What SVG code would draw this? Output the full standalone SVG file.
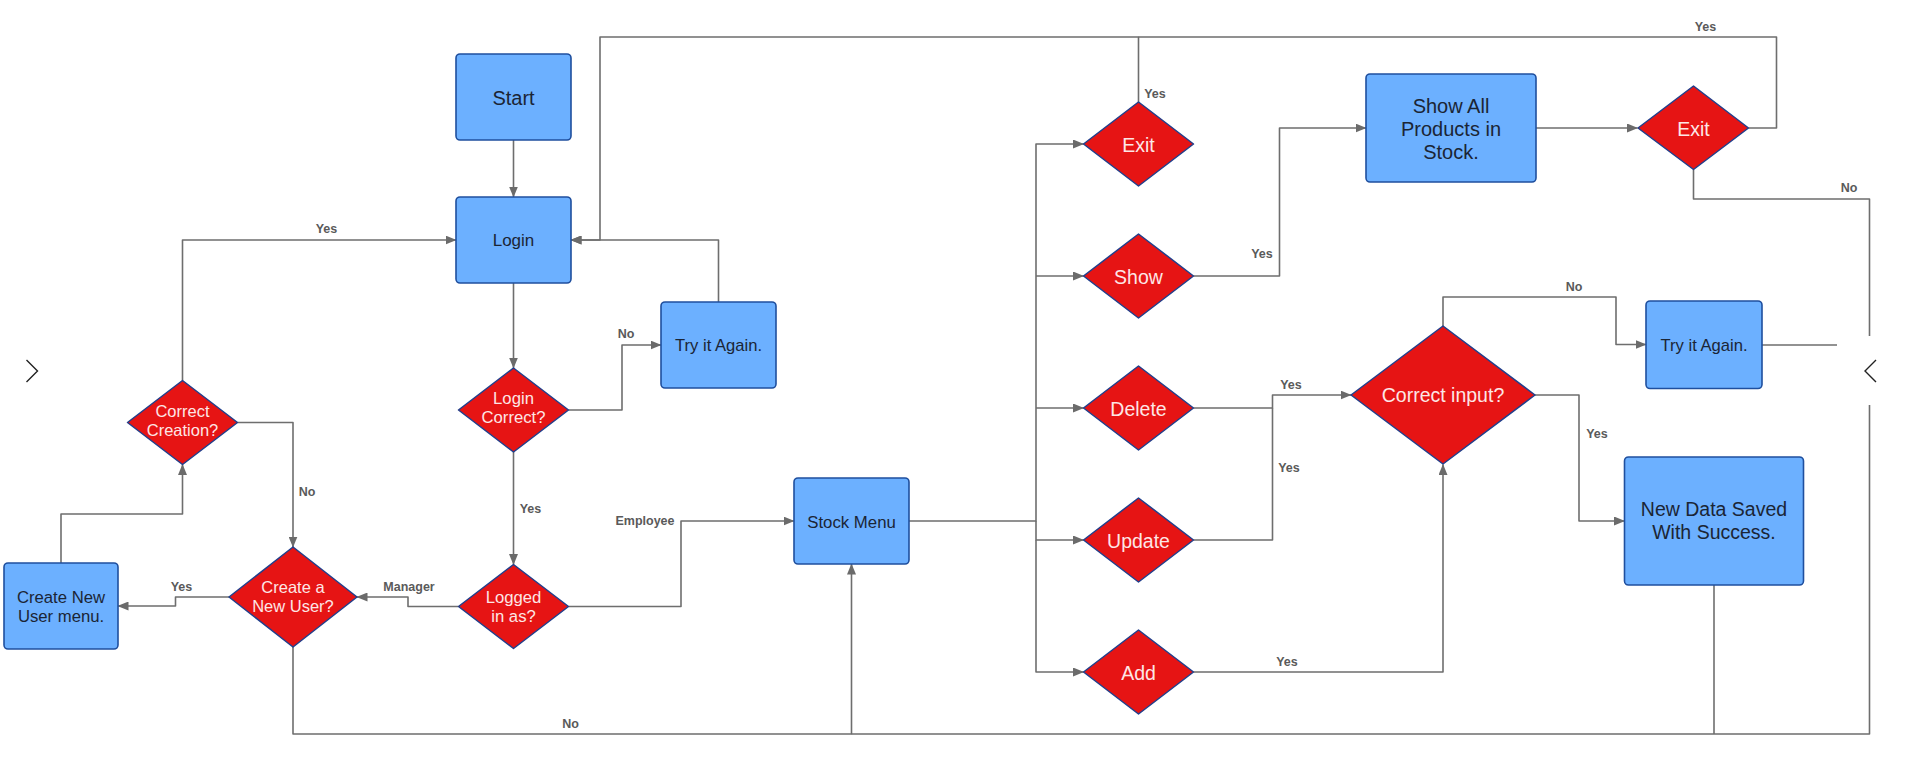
<svg xmlns="http://www.w3.org/2000/svg" width="1906" height="784" viewBox="0 0 1906 784">
<defs>
<marker id="arr" markerUnits="userSpaceOnUse" markerWidth="11" markerHeight="9" refX="10.5" refY="4.5" orient="auto">
<path d="M0,0 L11,4.5 L0,9 z" fill="#6b6b6b"/>
</marker>
<style>
.box{fill:#6cb0ff;stroke:#1f4f9e;stroke-width:1.6}
.dia{fill:#e61414;stroke:#213f8c;stroke-width:1.5;stroke-linejoin:round}
.bt{font-family:"Liberation Sans",Arial,sans-serif;fill:#1b2535;text-anchor:middle;dominant-baseline:central}
.dt{font-family:"Liberation Sans",Arial,sans-serif;fill:#fde6e6;text-anchor:middle;dominant-baseline:central}
.c{fill:none;stroke:#6e6e6e;stroke-width:1.6;stroke-linejoin:round}
.ca{fill:none;stroke:#6e6e6e;stroke-width:1.6;stroke-linejoin:round;marker-end:url(#arr)}
.lb{font-family:"Liberation Sans",Arial,sans-serif;font-size:12.5px;font-weight:bold;fill:#5a5a5a;text-anchor:middle;dominant-baseline:central}
</style>
</defs>
<rect width="1906" height="784" fill="#ffffff"/>

<g id="connectors">
<path class="ca" d="M513.5 140 V197"/>
<path class="ca" d="M513.5 283 V368"/>
<path class="ca" d="M568.5 410 H622 V345 H661"/>
<path class="ca" d="M718.5 302 V240 H571"/>
<path class="ca" d="M513.5 452 V564.5"/>
<path class="ca" d="M458.5 606.5 H408 V597 H357"/>
<path class="ca" d="M229 597 H175.5 V606 H118"/>
<path class="ca" d="M61 563 V514 H182.5 V464.5"/>
<path class="ca" d="M182.5 380.5 V240 H456"/>
<path class="ca" d="M237.5 422.5 H293 V547"/>
<path class="ca" d="M293 647 V734 H851.5 V564"/>
<path class="ca" d="M568.5 606.5 H681 V521 H794"/>
<path class="ca" d="M908.5 521 H1036 V144 H1083.5"/>
<path class="ca" d="M1036 276 H1083.5"/>
<path class="ca" d="M1036 408 H1083.5"/>
<path class="ca" d="M1036 521 V540 H1083.5"/>
<path class="ca" d="M1036 540 V672 H1083.5"/>
<path class="ca" d="M1138.5 102 V37 H600 V240 H571"/>
<path class="ca" d="M1193.5 276 H1279.5 V128 H1366"/>
<path class="ca" d="M1536 128 H1637.5"/>
<path class="c" d="M1748.5 128 H1776.5 V37 H1138.5"/>
<path class="c" d="M1693.5 169.5 V199 H1869.5 V734 H851.5"/>
<path class="ca" d="M1193.5 408 H1272.5 V395 H1351"/>
<path class="c" d="M1193.5 540 H1272.5 V408"/>
<path class="ca" d="M1193.5 672 H1443 V464.5"/>
<path class="ca" d="M1443 326 V297 H1616 V344.5 H1646"/>
<path class="c" d="M1762 345 H1869"/>
<path class="ca" d="M1535 395 H1579 V521 H1624.5"/>
<path class="c" d="M1714 585 V734"/>
<text class="lb" x="626" y="334">No</text>
<text class="lb" x="530.5" y="509">Yes</text>
<text class="lb" x="409" y="587">Manager</text>
<text class="lb" x="181.5" y="587">Yes</text>
<text class="lb" x="326.5" y="229">Yes</text>
<text class="lb" x="307" y="492">No</text>
<text class="lb" x="570.5" y="724">No</text>
<text class="lb" x="645" y="521">Employee</text>
<text class="lb" x="1155" y="94">Yes</text>
<text class="lb" x="1262" y="254">Yes</text>
<text class="lb" x="1705.5" y="27">Yes</text>
<text class="lb" x="1849" y="188">No</text>
<text class="lb" x="1291" y="385">Yes</text>
<text class="lb" x="1289" y="468">Yes</text>
<text class="lb" x="1287" y="662">Yes</text>
<text class="lb" x="1574" y="287">No</text>
<text class="lb" x="1597" y="434">Yes</text>
</g>

<g id="start"><rect class="box" x="456" y="54" width="115" height="86" rx="4"/><text class="bt" x="513.5" y="98" font-size="20">Start</text></g>
<g id="login"><rect class="box" x="456" y="197" width="115" height="86" rx="4"/><text class="bt" x="513.5" y="240.5" font-size="17">Login</text></g>
<g id="try-again-1"><rect class="box" x="661" y="302" width="115" height="86" rx="4"/><text class="bt" x="718.5" y="345" font-size="16.6">Try it Again.</text></g>
<g id="create-new-user-menu"><rect class="box" x="4" y="563" width="114" height="86" rx="4"/><text class="bt" x="61" y="597" font-size="16.7">Create New</text><text class="bt" x="61" y="616.5" font-size="16.7">User menu.</text></g>
<g id="stock-menu"><rect class="box" x="794" y="478" width="115" height="86" rx="4"/><text class="bt" x="851.5" y="522" font-size="16.8">Stock Menu</text></g>
<g id="show-all-products"><rect class="box" x="1366" y="74" width="170" height="108" rx="4"/><text class="bt" x="1451" y="106" font-size="20">Show All</text><text class="bt" x="1451" y="129" font-size="20">Products in</text><text class="bt" x="1451" y="152" font-size="20">Stock.</text></g>
<g id="try-again-2"><rect class="box" x="1646" y="301" width="116" height="87.5" rx="4"/><text class="bt" x="1704" y="345" font-size="16.6">Try it Again.</text></g>
<g id="new-data-saved"><rect class="box" x="1624.5" y="457" width="179" height="128" rx="4"/><text class="bt" x="1714" y="509" font-size="19.5">New Data Saved</text><text class="bt" x="1714" y="532" font-size="19.5">With Success.</text></g>

<g id="correct-creation"><polygon class="dia" points="182.5,380.5 237.5,422.5 182.5,464.5 127.5,422.5"/><text class="dt" x="182.5" y="411" font-size="16.5">Correct</text><text class="dt" x="182.5" y="430" font-size="16.5">Creation?</text></g>
<g id="create-new-user"><polygon class="dia" points="293,547 357,597 293,647 229,597"/><text class="dt" x="293" y="587" font-size="16.5">Create a</text><text class="dt" x="293" y="605.5" font-size="16.5">New User?</text></g>
<g id="login-correct"><polygon class="dia" points="513.5,368 568.5,410 513.5,452 458.5,410"/><text class="dt" x="513.5" y="398.5" font-size="16.7">Login</text><text class="dt" x="513.5" y="417.5" font-size="16.7">Correct?</text></g>
<g id="logged-in-as"><polygon class="dia" points="513.5,564.5 568.5,606.5 513.5,648.5 458.5,606.5"/><text class="dt" x="513.5" y="597.5" font-size="16.7">Logged</text><text class="dt" x="513.5" y="616" font-size="16.7">in as?</text></g>
<g id="exit-1"><polygon class="dia" points="1138.5,102 1193.5,144 1138.5,186 1083.5,144"/><text class="dt" x="1138.5" y="144.5" font-size="19.5">Exit</text></g>
<g id="show"><polygon class="dia" points="1138.5,234 1193.5,276 1138.5,318 1083.5,276"/><text class="dt" x="1138.5" y="276.5" font-size="19.5">Show</text></g>
<g id="delete"><polygon class="dia" points="1138.5,366 1193.5,408 1138.5,450 1083.5,408"/><text class="dt" x="1138.5" y="408.5" font-size="19.5">Delete</text></g>
<g id="update"><polygon class="dia" points="1138.5,498 1193.5,540 1138.5,582 1083.5,540"/><text class="dt" x="1138.5" y="540.5" font-size="19.5">Update</text></g>
<g id="add"><polygon class="dia" points="1138.5,630 1193.5,672 1138.5,714 1083.5,672"/><text class="dt" x="1138.5" y="672.5" font-size="19.5">Add</text></g>
<g id="exit-2"><polygon class="dia" points="1693.5,86 1748.5,128 1693.5,169.5 1638,128"/><text class="dt" x="1693.5" y="128.5" font-size="19.5">Exit</text></g>
<g id="correct-input"><polygon class="dia" points="1443,326 1535,395 1443,464 1351,395"/><text class="dt" x="1443" y="395" font-size="19.5">Correct input?</text></g>

<rect x="1837" y="336" width="69" height="69" fill="#ffffff"/>
<path d="M26.5 360 L37.5 371 L26.5 382" fill="none" stroke="#222" stroke-width="1.4"/>
<path d="M1876 360 L1865 371 L1876 382" fill="none" stroke="#222" stroke-width="1.4"/>
</svg>
